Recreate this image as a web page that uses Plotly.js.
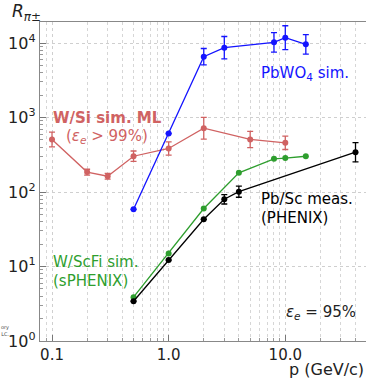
<!DOCTYPE html>
<html><head><meta charset="utf-8">
<script src="https://cdn.plot.ly/plotly-3.0.1.min.js"></script>
<style>html,body{margin:0;padding:0;background:#fff}#c{width:366px;height:380px}</style>
</head><body><div id="c"></div>
<script>
// W/Si sim. ML
const wsiP = [0.1, 0.2, 0.3, 0.5, 1.0, 2.0, 5.0, 10.0];
const wsiR = [507, 185, 163, 302, 384, 718, 507, 457];
const wsiErrUp = [131, 17, 15, 53, 88, 284, 146, 105];
const wsiErrDn = [104, 16, 14, 45, 72, 204, 114, 85];
// PbWO4 sim.
const pbwoP = [0.5, 1.0, 2.0, 3.0, 8.0, 10.0, 15.0];
const pbwoR = [58.6, 610, 6550, 8650, 10200, 11800, 9600];
const pbwoErrUp = [0, 0, 1890, 3570, 3560, 5250, 3350];
const pbwoErrDn = [0, 0, 1470, 2530, 2640, 3630, 2490];
// W/ScFi sim. (sPHENIX)
const scfiP = [0.5, 1.0, 2.0, 4.0, 8.0, 10.0, 15.0];
const scfiR = [3.87, 15.0, 60, 181, 279, 285, 302];
// Pb/Sc meas. (PHENIX)
const pbscP = [0.5, 1.0, 2.0, 3.0, 4.0, 40.0];
const pbscR = [3.42, 12.2, 43, 80, 101, 342];
const pbscErrUp = [0, 0, 0, 12, 19, 119];
const pbscErrDn = [0, 0, 0, 11, 16, 89];
// axis labels
const xTickVals = [0.1, 1, 10];
const xTickText = ["0.1", "1.0", "10.0"];
const yTickVals = [1, 10, 100, 1000, 10000];
const yTickText = ["10<sup>0</sup>", "10<sup>1</sup>", "10<sup>2</sup>", "10<sup>3</sup>", "10<sup>4</sup>"];

const RED = '#d06262', BLUE = '#1414ff', GREEN = '#2e9e2e', BLACK = '#000000';
function tr(x, y, c, up, dn) {
  const t = {x: x, y: y, type: 'scatter', mode: 'lines+markers',
    line: {color: c, width: 1.3}, marker: {color: c, size: 6}, showlegend: false, cliponaxis: false};
  if (up) t.error_y = {type: 'data', symmetric: false, array: up, arrayminus: dn, color: c, thickness: 1.3, width: 3};
  return t;
}
const data = [
  tr(wsiP, wsiR, RED, wsiErrUp, wsiErrDn),
  tr(pbwoP, pbwoR, BLUE, pbwoErrUp, pbwoErrDn),
  tr(scfiP, scfiR, GREEN),
  tr(pbscP, pbscR, BLACK, pbscErrUp, pbscErrDn)
];
const F = 'DejaVu Sans, sans-serif';
const L = 40, T = 22, W = 326, H = 319;
function px(x) { return (x - L) / W; }
function py(y) { return (T + H - y) / H; }
function ann(text, x, y, color, size, extra) {
  return Object.assign({text: text, xref: 'paper', yref: 'paper', x: px(x), y: py(y),
    xanchor: 'left', yanchor: 'middle', showarrow: false,
    font: {family: F, size: size, color: color}}, extra || {});
}
const minorX = [0.08,0.09,0.2,0.3,0.4,0.5,0.6,0.7,0.8,0.9,2,3,4,5,6,7,8,9,20,30,40];
const minorY = [];
for (const d of [1,10,100,1000,10000]) for (let k=2;k<=9;k++) minorY.push(k*d);
const layout = {
  width: 366, height: 380,
  margin: {l: L, r: 0, t: T, b: 380 - T - H},
  paper_bgcolor: '#fff', plot_bgcolor: '#fff',
  font: {family: F, color: '#222'},
  xaxis: {type: 'log', range: [-1.103, 1.692], tickmode: 'array', tickvals: xTickVals, ticktext: xTickText,
    tickfont: {size: 15, color: '#222'}, ticks: 'inside', ticklen: 6, tickcolor: '#777',
    showline: true, linecolor: '#888', linewidth: 1.2, mirror: true,
    showgrid: true, gridcolor: '#cfcfcf', griddash: 'dot', gridwidth: 1, zeroline: false,
    minor: {tickmode: 'array', tickvals: minorX, ticks: 'inside', ticklen: 3, tickcolor: '#999',
      showgrid: true, gridcolor: '#d6d6d6', griddash: 'dot', gridwidth: 1},
    title: {text: ''}},
  yaxis: {type: 'log', range: [0, 4.282], tickmode: 'array', tickvals: yTickVals, ticktext: yTickText,
    tickfont: {size: 16, color: '#222'}, ticks: 'inside', ticklen: 6, tickcolor: '#777',
    ticklabelstandoff: 0,
    showline: true, linecolor: '#888', linewidth: 1.2, mirror: true,
    showgrid: true, gridcolor: '#cfcfcf', griddash: 'dot', gridwidth: 1, zeroline: false,
    minor: {tickmode: 'array', tickvals: minorY, ticks: 'inside', ticklen: 3, tickcolor: '#999', showgrid: false},
    title: {text: ''}},
  annotations: [
    ann('<i>R</i><sub><i>π</i>±</sub>', 10, 12, '#222', 17),
    ann('p (GeV/c)', 366, 369, '#222', 16, {xanchor: 'right'}),
    ann('PbWO<sub>4</sub> sim.', 259, 74, BLUE, 15),
    ann('<b>W/Si sim. ML</b>', 51, 118, RED, 15),
    ann('(<i>ε</i><sub><i>e</i></sub> > 99%)', 64, 136, RED, 15),
    ann('Pb/Sc meas.', 259, 199, BLACK, 15),
    ann('(PHENIX)', 259, 218, BLACK, 15),
    ann('W/ScFi sim.', 51, 262, GREEN, 15),
    ann('(sPHENIX)', 51, 281, GREEN, 15),
    ann('<i>ε</i><sub><i>e</i></sub> = 95%', 284, 312, '#222', 15),
    ann('ory<br>LC.', 0, 330, '#444', 5, {align: 'right', borderpad: 0})
  ]
};
Plotly.newPlot('c', data, layout, {displayModeBar: false, staticPlot: true});
</script></body></html>
